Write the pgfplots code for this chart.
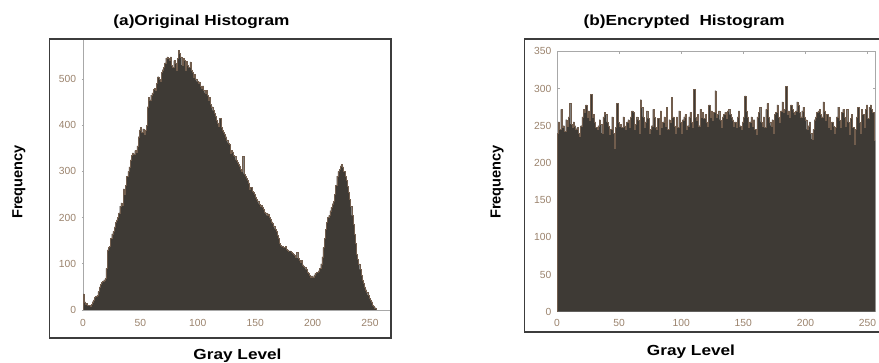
\documentclass[border=0pt]{standalone}
\usepackage{pgfplots}
\pgfplotsset{compat=1.18}
\usepackage{fontspec}
\setmainfont{Liberation Sans}
\definecolor{histfill}{HTML}{3E3A35}
\definecolor{histedge}{HTML}{9A7A60}
\definecolor{axisgray}{HTML}{A8A8A8}
\definecolor{tickc}{HTML}{9A826C}
\definecolor{framec}{HTML}{3C3C3C}
\newcommand{\lblfont}{\bfseries\fontsize{14.6}{16}\selectfont}
\pgfplotsset{
  histbase/.style={
    scale only axis,
    anchor=south west,
    /pgf/number format/assume math mode=true,
    ticklabel style={font=\fontsize{10.3}{11}\selectfont, text=tickc, inner sep=0pt},
    yticklabel style={anchor=east, xshift=-5.5pt},
    xticklabel style={anchor=north, yshift=-7.5pt},
    tick style={draw=axisgray, line width=0.6pt},
    tick align=inside,
    major tick length=2.5pt,
    xtick={0,50,100,150,200,250},
  }
}
\begin{document}
\begin{tikzpicture}[x=1pt,y=1pt]
\useasboundingbox (0,0) rectangle (879,363);
% ---------- left panel ----------
\begin{axis}[histbase,
  at={(83pt,53pt)}, width=307.7pt, height=271.2pt,
  xmin=0, xmax=268, ymin=0, ymax=587,
  axis lines=left,
  axis line style={draw=axisgray, line width=0.8pt, -},
  ytick={0,100,200,300,400,500},
]
\addplot[const plot, fill=histfill, draw=histedge!55!histfill, line width=0.3pt] coordinates {
(0,35)(1,18)(2,12)(3,14)(4,10)(5,10)(6,8)(7,12)(8,18)(9,22)(10,28)(11,30)(12,32)(13,40)(14,50)(15,55)
(16,60)(17,62)(18,65)(19,68)(20,90)(21,130)(22,135)(23,138)(24,155)(25,165)(26,170)(27,180)(28,190)(29,195)(30,200)(31,210)
(32,225)(33,232)(34,228)(35,262)(36,250)(37,270)(38,290)(39,300)(40,310)(41,325)(42,335)(43,340)(44,338)(45,345)(46,342)(47,355)
(48,375)(49,390)(50,395)(51,385)(52,392)(53,380)(54,390)(55,400)(56,440)(57,460)(58,455)(59,465)(60,470)(61,478)(62,480)(63,475)
(64,490)(65,505)(66,500)(67,495)(68,515)(69,520)(70,525)(71,535)(72,545)(73,548)(74,545)(75,540)(76,548)(77,530)(78,525)(79,540)
(80,535)(81,520)(82,545)(83,562)(84,555)(85,548)(86,530)(87,545)(88,540)(89,520)(90,538)(91,530)(92,525)(93,537)(94,520)(95,515)
(96,505)(97,510)(98,500)(99,495)(100,490)(101,494)(102,485)(103,480)(104,485)(105,475)(106,470)(107,476)(108,465)(109,455)(110,460)(111,445)
(112,440)(113,432)(114,425)(115,420)(116,410)(117,405)(118,398)(119,415)(120,395)(121,390)(122,385)(123,380)(124,375)(125,368)(126,362)(127,358)
(128,340)(129,345)(130,342)(131,335)(132,332)(133,325)(134,320)(135,315)(136,312)(137,305)(138,300)(139,332)(140,295)(141,290)(142,285)(143,281)
(144,275)(145,262)(146,265)(147,258)(148,255)(149,250)(150,245)(151,240)(152,236)(153,230)(154,224)(155,226)(156,222)(157,218)(158,212)(159,210)
(160,205)(161,208)(162,200)(163,196)(164,191)(165,188)(166,182)(167,176)(168,170)(169,162)(170,155)(171,145)(172,140)(173,138)(174,136)(175,135)
(176,138)(177,132)(178,130)(179,128)(180,128)(181,125)(182,122)(183,120)(184,118)(185,115)(186,125)(187,112)(188,108)(189,104)(190,108)(191,98)
(192,95)(193,92)(194,88)(195,82)(196,80)(197,76)(198,72)(199,74)(200,72)(201,76)(202,80)(203,82)(204,82)(205,85)(206,90)(207,100)
(208,115)(209,135)(210,155)(211,175)(212,190)(213,200)(214,205)(215,215)(216,222)(217,230)(218,235)(219,250)(220,270)(221,290)(222,300)(223,305)
(224,312)(225,315)(226,310)(227,300)(228,290)(229,280)(230,268)(231,255)(232,240)(233,225)(234,205)(235,185)(236,165)(237,145)(238,120)(239,110)
(240,100)(241,88)(242,75)(243,65)(244,58)(245,50)(246,44)(247,38)(248,32)(249,26)(250,22)(251,18)(252,10)(253,8)(254,5)(255,0)
} \closedcycle;
\end{axis}
% ---------- right panel ----------
\begin{axis}[histbase,
  at={(557pt,51.3pt)}, width=318pt, height=260.4pt,
  xmin=0, xmax=256, ymin=0, ymax=350,
  axis line style={draw=axisgray, line width=0.8pt},
  ytick={0,50,100,150,200,250,300,350},
]
\addplot[const plot, fill=histfill, draw=histedge!55!histfill, line width=0.3pt] coordinates {
(0,240)(1,255)(2,245)(3,272)(4,248)(5,250)(6,242)(7,258)(8,250)(9,262)(10,280)(11,252)(12,248)(13,255)(14,250)(15,246)
(16,248)(17,240)(18,236)(19,250)(20,262)(21,272)(22,268)(23,278)(24,262)(25,270)(26,258)(27,292)(28,262)(29,265)(30,255)(31,248)
(32,245)(33,250)(34,258)(35,252)(36,240)(37,262)(38,268)(39,265)(40,255)(41,250)(42,238)(43,245)(44,262)(45,240)(46,220)(47,248)
(48,280)(49,255)(50,250)(51,252)(52,248)(53,262)(54,250)(55,245)(56,255)(57,258)(58,248)(59,262)(60,270)(61,268)(62,245)(63,252)
(64,262)(65,258)(66,240)(67,285)(68,275)(69,262)(70,248)(71,255)(72,270)(73,260)(74,240)(75,245)(76,250)(77,272)(78,262)(79,248)
(80,245)(81,260)(82,238)(83,270)(84,248)(85,255)(86,262)(87,250)(88,275)(89,245)(90,258)(91,255)(92,288)(93,262)(94,250)(95,240)
(96,262)(97,248)(98,270)(99,255)(100,240)(101,258)(102,262)(103,265)(104,245)(105,250)(106,262)(107,268)(108,255)(109,248)(110,299)(111,262)
(112,258)(113,265)(114,250)(115,272)(116,262)(117,268)(118,260)(119,265)(120,255)(121,250)(122,278)(123,262)(124,270)(125,258)(126,268)(127,297)
(128,262)(129,265)(130,270)(131,258)(132,248)(133,262)(134,265)(135,268)(136,260)(137,270)(138,272)(139,265)(140,262)(141,258)(142,250)(143,255)
(144,248)(145,262)(146,270)(147,250)(148,245)(149,255)(150,262)(151,290)(152,270)(153,262)(154,248)(155,255)(156,262)(157,250)(158,258)(159,245)
(160,238)(161,262)(162,268)(163,275)(164,255)(165,250)(166,262)(167,248)(168,272)(169,280)(170,262)(171,255)(172,250)(173,258)(174,240)(175,265)
(176,268)(177,278)(178,262)(179,255)(180,270)(181,282)(182,268)(183,272)(184,303)(185,265)(186,270)(187,262)(188,278)(189,272)(190,268)(191,265)
(192,270)(193,282)(194,278)(195,268)(196,262)(197,270)(198,275)(199,262)(200,258)(201,245)(202,250)(203,255)(204,240)(205,232)(206,245)(207,258)
(208,262)(209,268)(210,270)(211,272)(212,265)(213,262)(214,282)(215,270)(216,258)(217,265)(218,248)(219,262)(220,245)(221,255)(222,250)(223,240)
(224,248)(225,262)(226,275)(227,258)(228,248)(229,268)(230,272)(231,262)(232,250)(233,272)(234,255)(235,238)(236,260)(237,265)(238,248)(239,225)
(240,245)(241,262)(242,275)(243,255)(244,240)(245,272)(246,265)(247,248)(248,272)(249,278)(250,260)(251,275)(252,278)(253,272)(254,268)(255,230)
(256,230)
} \closedcycle;
\end{axis}
% ---------- frames ----------
\draw[framec, line width=1.4pt] (49.3,25) rectangle (391,324);
\draw[framec, line width=1.4pt] (882,324) -- (524.3,324) -- (524.3,31) -- (882,31);
% ---------- labels ----------
\node[font=\lblfont, anchor=base, xscale=1.18, inner sep=0pt] at (201.5,337) {(a)Original Histogram};
\node[font=\lblfont, anchor=base, xscale=1.18, inner sep=0pt] at (684.2,337) {(b)Encrypted\ \ Histogram};
\node[font=\lblfont, anchor=base, xscale=1.18, inner sep=0pt] at (237.5,3.3) {Gray Level};
\node[font=\lblfont, anchor=base, xscale=1.18, inner sep=0pt] at (691,7.7) {Gray Level};
\node[font=\lblfont, rotate=90, inner sep=0pt] at (18.8,181) {Frequency};
\node[font=\lblfont, rotate=90, inner sep=0pt] at (497,181) {Frequency};
\end{tikzpicture}
\end{document}
